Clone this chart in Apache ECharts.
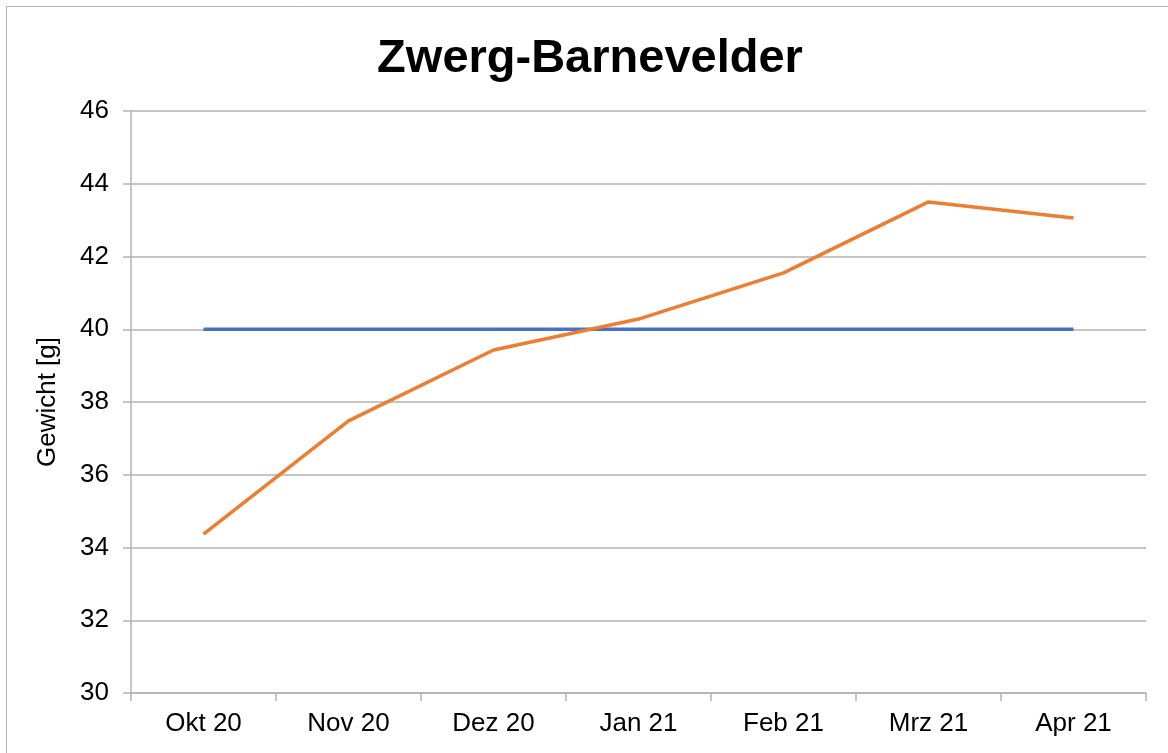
<!DOCTYPE html>
<html>
<head>
<meta charset="utf-8">
<title>Zwerg-Barnevelder</title>
<script src="https://cdn.jsdelivr.net/npm/echarts@6/dist/echarts.min.js"></script>
<style>
  html, body { margin: 0; padding: 0; background: #fff; }
  #chart { width: 1168px; height: 753px; }
</style>
</head>
<body>
<div id="chart"></div>
<script>
// Monate
const months = ['Okt 20', 'Nov 20', 'Dez 20', 'Jan 21', 'Feb 21', 'Mrz 21', 'Apr 21'];
// Sollgewicht (blau)
const targetWeight = [40, 40, 40, 40, 40, 40, 40];
// gemessenes Gewicht (orange)
const measuredWeight = [34.37, 37.48, 39.43, 40.28, 41.55, 43.5, 43.06];

const chart = echarts.init(document.getElementById('chart'));

const option = {
  animation: false,
  backgroundColor: '#fff',
  textStyle: { fontFamily: 'Liberation Sans, Arial, sans-serif' },
  graphic: [
    {
      type: 'rect',
      shape: { x: 6.5, y: 6.5, width: 1200, height: 800 },
      style: { fill: 'none', stroke: '#b0b0b0', lineWidth: 1 },
      silent: true
    }
  ],
  title: {
    text: 'Zwerg-Barnevelder',
    left: 585,
    top: 31,
    textAlign: 'center',
    textStyle: {
      fontSize: 47,
      fontWeight: 'bold',
      color: '#000',
      fontFamily: 'Liberation Sans, Arial, sans-serif'
    }
  },
  grid: {
    left: 131,
    right: 22,
    top: 111,
    bottom: 60,
    containLabel: false
  },
  xAxis: {
    type: 'category',
    data: months,
    boundaryGap: true,
    axisLine: { lineStyle: { color: '#b3b3b3', width: 1.5 } },
    axisTick: { show: true, length: 8, lineStyle: { color: '#b3b3b3', width: 1.5 } },
    axisLabel: { color: '#000', fontSize: 26, margin: 18 },
    splitLine: { show: false }
  },
  yAxis: {
    type: 'value',
    min: 30,
    max: 46,
    interval: 2,
    name: 'Gewicht [g]',
    nameLocation: 'middle',
    nameGap: 70,
    nameTextStyle: { color: '#000', fontSize: 26 },
    axisLine: { show: true, lineStyle: { color: '#b3b3b3', width: 1.5 } },
    axisTick: { show: true, length: 8, lineStyle: { color: '#b3b3b3', width: 1.5 } },
    axisLabel: { color: '#000', fontSize: 26, margin: 22 },
    splitLine: { show: true, lineStyle: { color: '#b3b3b3', width: 1.5 } }
  },
  series: [
    {
      name: 'Soll',
      type: 'line',
      data: targetWeight,
      symbol: 'none',
      lineStyle: { color: '#4472C4', width: 3.5 },
      itemStyle: { color: '#4472C4' }
    },
    {
      name: 'Gewicht',
      type: 'line',
      data: measuredWeight,
      symbol: 'none',
      lineStyle: { color: '#ED7D31', width: 3.5 },
      itemStyle: { color: '#ED7D31' }
    }
  ]
};

chart.setOption(option);
</script>
</body>
</html>
